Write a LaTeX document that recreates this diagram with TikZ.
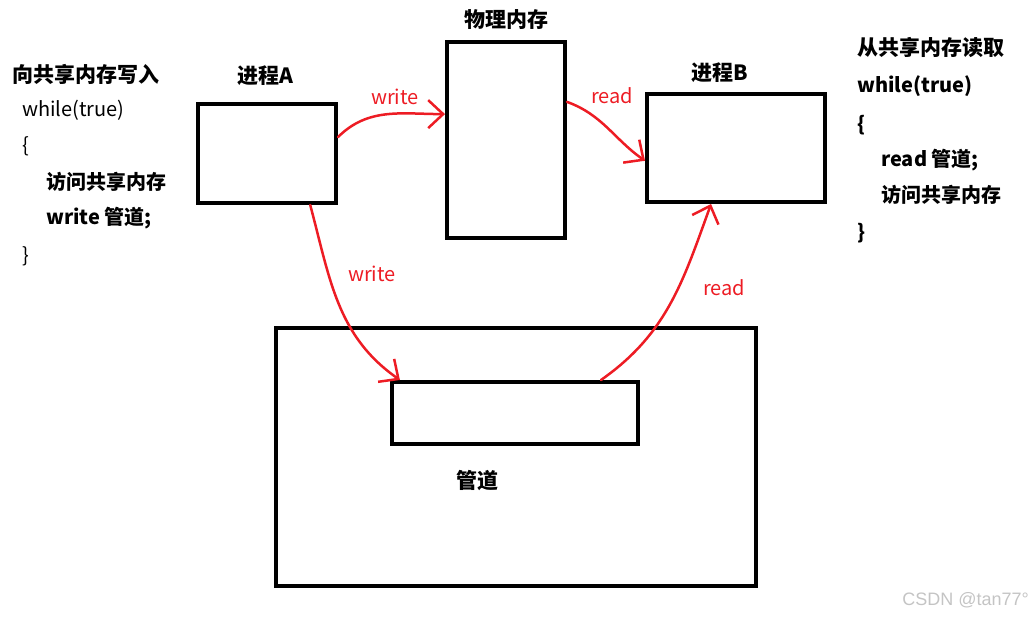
\documentclass[tikz,border=0pt]{standalone}
\usepackage{fontspec}
\setmainfont{Noto Sans CJK SC}
\newfontfamily\wmfont{Liberation Sans}
\usetikzlibrary{positioning,arrows.meta}
\definecolor{paintRed}{HTML}{ED1C24}
\definecolor{wmGrey}{HTML}{C4C4C4}
\tikzset{
  blk/.style={draw=black, line width=4pt, inner sep=0pt},
  lbl/.style={font=\fontsize{21}{25}\selectfont\bfseries, inner sep=0pt},
  codeln/.style={anchor=west, inner sep=0pt, font=\fontsize{20}{24}\selectfont},
  codelnb/.style={codeln, font=\fontsize{20}{24}\selectfont\bfseries},
  arrr/.style={-{Straight Barb[length=15pt,width=28pt]}, line width=2.5pt, paintRed, line cap=round},
  rlbl/.style={font=\fontsize{20}{24}\selectfont, text=paintRed, inner sep=0pt},
}
\begin{document}
\begin{tikzpicture}[x=1pt,y=1pt]
  \useasboundingbox (0,0) rectangle (1033,-618);
  % boxes
  \node[blk, minimum width=138pt, minimum height=99pt] (procA) at (267,-153.5) {};
  \node[blk, minimum width=118pt, minimum height=196pt] (phymem) at (506,-140) {};
  \node[blk, minimum width=178pt, minimum height=108pt] (procB) at (736,-148) {};
  \node[blk, minimum width=480pt, minimum height=258pt] (pipeouter) at (515.5,-457) {};
  \node[blk, minimum width=246pt, minimum height=62pt] (pipebuf) at (515,-413) {};
  % box labels
  \node[lbl, above=16pt of procA, xshift=-2pt] (procAlbl) {进程A};
  \node[lbl, above=10pt of phymem] (phymemlbl) {物理内存};
  \node[lbl, above=9pt of procB, xshift=-16pt] (procBlbl) {进程B};
  \node[lbl] (pipelbl) at (477,-481) {管道};
  % writer code
  \node[lbl, anchor=west] (wrhead) at (12,-74) {向共享内存写入};
  \node[codeln] (wrl1) at (22,-110) {while(true)};
  \node[codeln] (wrl2) at (22,-146) {\{};
  \node[codelnb] (wrl3) at (46,-182) {访问共享内存};
  \node[codelnb] (wrl4) at (46,-218) {write 管道;};
  \node[codeln] (wrl5) at (22,-256) {\}};
  % reader code
  \node[lbl, anchor=west] (rdhead) at (857,-48) {从共享内存读取};
  \node[codelnb] (rdl1) at (857,-86) {while(true)};
  \node[codelnb] (rdl2) at (857,-125) {\{};
  \node[codelnb] (rdl3) at (881,-160) {read 管道;};
  \node[codelnb] (rdl4) at (881,-195) {访问共享内存};
  \node[codelnb] (rdl5) at (857,-233) {\}};
  % red arrows
  \draw[arrr] (procA.13) to[out=45, in=180] (phymem.157);
  \draw[arrr] (phymem.32) to[out=-20, in=145] (procB.188);
  \draw[arrr] (procA.-50) to[out=-75, in=145] (pipebuf.164);
  \draw[arrr] (pipebuf.21) to[out=35, in=-110] (procB.246);
  \node[rlbl] (wrmem) at (395,-97) {write};
  \node[rlbl] (rdmem) at (612,-96) {read};
  \node[rlbl] (wrpipe) at (372,-274) {write};
  \node[rlbl] (rdpipe) at (724,-288) {read};
  \node[font=\wmfont\fontsize{18}{20}\selectfont, text=wmGrey, anchor=east, inner sep=0pt] (wmark) at (1029,-600) {CSDN @tan77°};
\end{tikzpicture}
\end{document}
